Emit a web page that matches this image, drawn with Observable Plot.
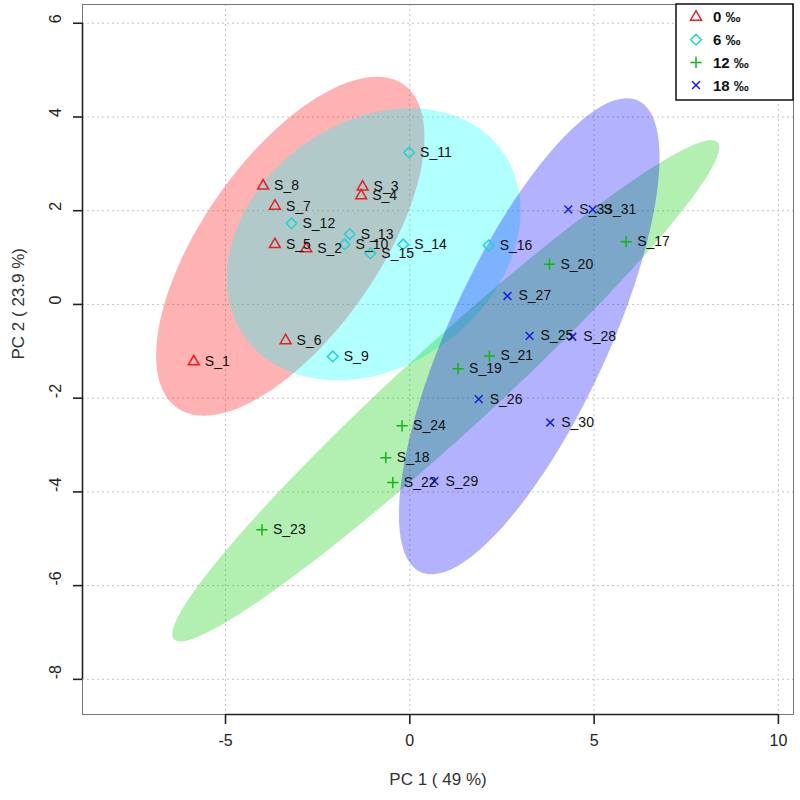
<!DOCTYPE html>
<html><head><meta charset="utf-8">
<script src="https://cdn.jsdelivr.net/npm/d3@7"></script>
<script src="https://cdn.jsdelivr.net/npm/@observablehq/plot@0.6"></script>
<style>body{margin:0;background:#fff}#chart{width:800px;height:800px}</style>
</head><body><div id="chart"></div>
<script>
// ---- data ----
const groups = ["0 ‰", "6 ‰", "12 ‰", "18 ‰"];
const sampleNames = ["S_1","S_2","S_3","S_4","S_5","S_6","S_7","S_8",
  "S_9","S_10","S_11","S_12","S_13","S_14","S_15","S_16",
  "S_17","S_18","S_19","S_20","S_21","S_22","S_23","S_24",
  "S_25","S_26","S_27","S_28","S_29","S_30","S_31","S_33"];
const sampleGroup = [0,0,0,0,0,0,0,0, 1,1,1,1,1,1,1,1, 2,2,2,2,2,2,2,2, 3,3,3,3,3,3,3,3];
const pc1 = [-5.86,-2.81,-1.28,-1.32,-3.66,-3.37,-3.66,-3.98,
  -2.09,-1.77,-0.02,-3.21,-1.63,-0.18,-1.07,2.14,
  5.87,-0.65,1.31,3.79,2.16,-0.46,-4.01,-0.21,
  3.25,1.87,2.65,4.41,0.67,3.81,4.96,4.30];
const pc2 = [-1.22,1.19,2.51,2.32,1.28,-0.77,2.10,2.53,
  -1.11,1.28,3.24,1.73,1.50,1.28,1.09,1.26,
  1.34,-3.27,-1.37,0.86,-1.10,-3.80,-4.81,-2.59,
  -0.67,-2.02,0.18,-0.69,-3.77,-2.52,2.03,2.03];
const xTicks = [-5, 0, 5, 10];
const yTicks = [-8, -6, -4, -2, 0, 2, 4, 6];
const xTitle = "PC 1 ( 49 %)";
const yTitle = "PC 2 ( 23.9 %)";

// ---- styles ----
const ellipseColors = ["#FF0000", "#00FFFF", "#00CD00", "#0000FF"];
const pointColors = ["#E82020", "#22D4D4", "#10B810", "#1A1AE0"];
const plotSymbols = ["triangle2", "diamond2", "plus", "times"];
const d3Symbols = [d3.symbolTriangle2, d3.symbolDiamond2, d3.symbolPlus, d3.symbolTimes];
const symbolR = [5.2, 4.8, 3.7, 3.6];
const W = 800, H = 800, mL = 82, mR = 7, mT = 4, mB = 86;
const xDomain = [-8.88, 10.41], yDomain = [-8.75, 6.40];
const font = "'Liberation Sans', Arial, sans-serif";

const samples = sampleNames.map((name, i) => ({name, g: sampleGroup[i], x: pc1[i], y: pc2[i]}));

// 95% confidence ellipse (as in R package 'ellipse', level = 0.95)
function ellipse(xs, ys, level = 0.95, n = 100) {
  const t = Math.sqrt(-2 * Math.log(1 - level));
  const mx = d3.mean(xs), my = d3.mean(ys);
  const sx = d3.deviation(xs), sy = d3.deviation(ys);
  const cov = d3.sum(xs, (x, i) => (x - mx) * (ys[i] - my)) / (xs.length - 1);
  const d = Math.acos(cov / (sx * sy));
  return d3.range(n).map(k => {
    const a = 2 * Math.PI * k / n;
    return {x: mx + t * sx * Math.cos(a + d / 2), y: my + t * sy * Math.cos(a - d / 2)};
  });
}

const hyph = d => (d < 0 ? "-" + Math.abs(d) : String(d));

function legendMark() {
  const g = d3.create("svg:g");
  const bw = 117, bh = 96, bx = W - mR - bw, by = mT;
  g.append("rect").attr("x", bx).attr("y", by).attr("width", bw).attr("height", bh)
    .attr("fill", "white").attr("stroke", "#111").attr("stroke-width", 1.5);
  groups.forEach((name, i) => {
    const cy = by + 13 + i * 22.7;
    g.append("path")
      .attr("transform", `translate(${bx + 20},${cy})`)
      .attr("d", d3.symbol(d3Symbols[i], Math.PI * symbolR[i] * symbolR[i])())
      .attr("fill", "none").attr("stroke", pointColors[i]).attr("stroke-width", 1.5);
    g.append("text").attr("x", bx + 37).attr("y", cy).attr("dy", "0.36em")
      .attr("text-anchor", "start")
      .attr("font-family", font).attr("font-weight", "bold").attr("font-size", 15)
      .attr("fill", "#111").text(name);
  });
  return g.node();
}

const marks = [
  Plot.ruleX(xTicks, {x: d => d, stroke: "#c4c4c4", strokeDasharray: "2,3"}),
  Plot.ruleY(yTicks, {y: d => d, stroke: "#c4c4c4", strokeDasharray: "2,3"})
];
groups.forEach((gname, gi) => {
  const gs = samples.filter(s => s.g === gi);
  marks.push(Plot.line(ellipse(gs.map(s => s.x), gs.map(s => s.y)),
    {x: "x", y: "y", fill: ellipseColors[gi], fillOpacity: 0.3, stroke: "none", curve: "linear-closed", clip: true}));
});
marks.push(
  Plot.frame({stroke: "#777", strokeWidth: 1}),
  Plot.ruleX([xDomain[0]], {y1: d3.min(yTicks), y2: d3.max(yTicks), stroke: "#222", strokeWidth: 1.6}),
  Plot.ruleY([yDomain[0]], {x1: d3.min(xTicks), x2: d3.max(xTicks), stroke: "#222", strokeWidth: 1.6}),
  Plot.axisX({ticks: xTicks, tickSize: 10, tickFormat: () => "", label: null, stroke: "#222", strokeWidth: 1.6}),
  Plot.axisY({ticks: yTicks, tickSize: 9, tickFormat: () => "", label: null, stroke: "#222", strokeWidth: 1.6}),
  Plot.text(xTicks, {x: d => d, frameAnchor: "bottom", dy: 31, text: hyph, fontSize: 16, fill: "#222"}),
  Plot.text(yTicks, {y: d => d, frameAnchor: "left", dx: -27, rotate: -90, text: hyph, fontSize: 16, fill: "#222"}),
  Plot.text([xTitle], {frameAnchor: "bottom", dy: 70, text: d => d, fontSize: 17, fill: "#333"}),
  Plot.text([yTitle], {frameAnchor: "left", dx: -64, rotate: -90, text: d => d, fontSize: 17, fill: "#333"})
);
groups.forEach((gname, gi) => {
  marks.push(Plot.dot(samples.filter(s => s.g === gi),
    {x: "x", y: "y", symbol: () => plotSymbols[gi], r: symbolR[gi], stroke: pointColors[gi], fill: "none", strokeWidth: 1.5}));
});
marks.push(
  Plot.text(samples, {x: "x", y: "y", text: "name", dx: 11, textAnchor: "start", fontSize: 14, fill: "#111"}),
  legendMark
);

const chart = Plot.plot({
  width: W, height: H,
  marginLeft: mL, marginRight: mR, marginTop: mT, marginBottom: mB,
  x: {domain: xDomain},
  y: {domain: yDomain},
  symbol: {type: "identity"},
  style: {fontFamily: font, background: "white"},
  marks
});
document.getElementById("chart").appendChild(chart);
</script>
</body></html>
